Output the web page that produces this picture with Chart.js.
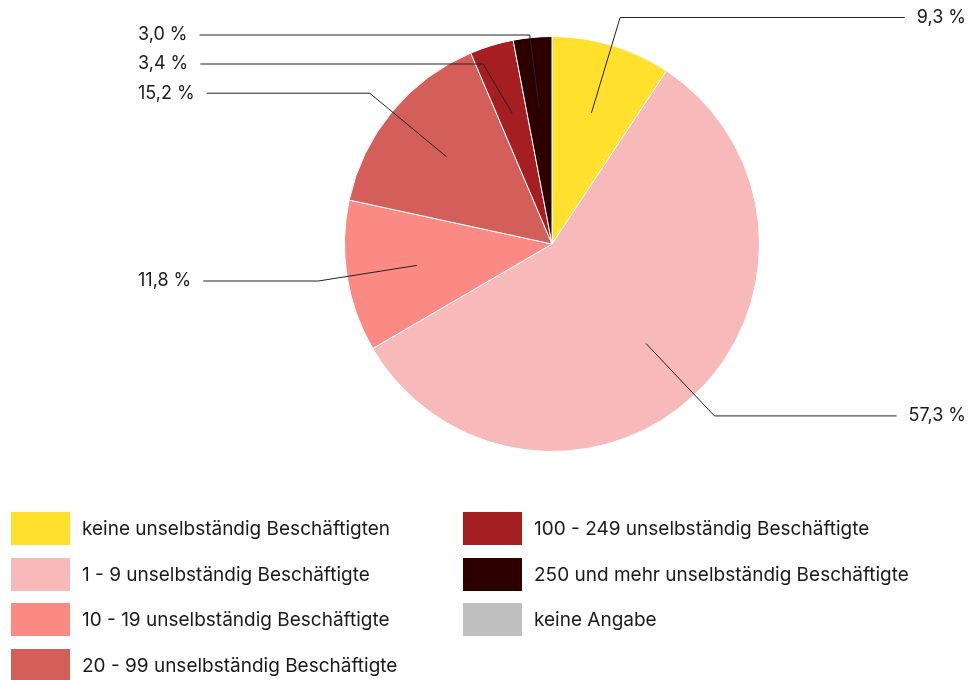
<!DOCTYPE html>
<html>
<head>
<meta charset="utf-8">
<script src="https://cdn.jsdelivr.net/npm/chart.js@4/dist/chart.umd.min.js"></script>
<style>
  body { margin: 0; background: #fff; font-family: Inter, "Liberation Sans", Arial, sans-serif; }
  #wrap { position: relative; width: 970px; height: 680px; }
  #legend { position: absolute; left: 0; top: 0; }
  .item { position: absolute; display: flex; align-items: center; font-size: 19px; color: #1a1a1a; white-space: nowrap; }
  .item span.box { display: inline-block; width: 59px; height: 33px; margin-right: 12px; }
</style>
</head>
<body>
<div id="wrap">
  <canvas id="pie" width="970" height="680"></canvas>
  <div id="legend"></div>
</div>
<script>
const categories = [
  "keine unselbständig Beschäftigten",
  "1 - 9 unselbständig Beschäftigte",
  "10 - 19 unselbständig Beschäftigte",
  "20 - 99 unselbständig Beschäftigte",
  "100 - 249 unselbständig Beschäftigte",
  "250 und mehr unselbständig Beschäftigte",
  "keine Angabe",
];
const shares = [9.3, 57.3, 11.8, 15.2, 3.4, 3.0, 0];
const sliceColors = ["#FFE12D", "#F7B9B9", "#FA8A83", "#D45F5A", "#A51E21", "#2D0000", "#BFBFBF"];

const fmt = (v) => v.toFixed(1).replace(".", ",") + " %";

// leader lines with labels on the left / right
const leaderLabels = {
  id: "leaderLabels",
  afterDatasetsDraw(chart, args, opts) {
    const ctx = chart.ctx;
    const arcs = chart.getDatasetMeta(0).data;
    const left = [];
    const right = [];
    arcs.forEach((arc, i) => {
      const v = shares[i];
      if (!v) return;
      const a = (arc.startAngle + arc.endAngle) / 2;
      const r = arc.outerRadius;
      const item = {
        text: fmt(v),
        px: arc.x + Math.cos(a) * r * 0.66,
        py: arc.y + Math.sin(a) * r * 0.66,
        ex: arc.x + Math.cos(a) * r * 1.14,
        ey: arc.y + Math.sin(a) * r * 1.14,
      };
      (Math.cos(a) >= 0 ? right : left).push(item);
    });

    const spread = (list, top) => {
      list.sort((p, q) => p.ey - q.ey);
      let prev = -Infinity;
      list.forEach((it) => {
        it.ey = Math.max(it.ey, top, prev + opts.gap);
        prev = it.ey;
      });
    };
    spread(left, opts.leftTop);
    spread(right, opts.rightTop);

    ctx.save();
    ctx.font = opts.font;
    ctx.fillStyle = "#1a1a1a";
    ctx.strokeStyle = "#222";
    ctx.lineWidth = 1;
    ctx.textBaseline = "middle";

    left.forEach((it) => {
      const w = ctx.measureText(it.text).width;
      ctx.beginPath();
      ctx.moveTo(it.px, it.py);
      ctx.lineTo(it.ex, it.ey);
      ctx.lineTo(opts.leftX + w + 12, it.ey);
      ctx.stroke();
      ctx.textAlign = "left";
      ctx.fillText(it.text, opts.leftX, it.ey);
    });
    right.forEach((it) => {
      const w = ctx.measureText(it.text).width;
      ctx.beginPath();
      ctx.moveTo(it.px, it.py);
      ctx.lineTo(it.ex, it.ey);
      ctx.lineTo(opts.rightX - w - 12, it.ey);
      ctx.stroke();
      ctx.textAlign = "right";
      ctx.fillText(it.text, opts.rightX, it.ey);
    });
    ctx.restore();
  },
};

new Chart("pie", {
  type: "pie",
  data: {
    labels: categories,
    datasets: [
      {
        data: shares,
        backgroundColor: sliceColors,
        borderColor: "#fff",
        borderWidth: 1,
      },
    ],
  },
  options: {
    responsive: false,
    animation: false,
    layout: { padding: { left: 344, right: 210, top: 36, bottom: 228 } },
    plugins: {
      legend: { display: false },
      tooltip: { enabled: false },
      leaderLabels: {
        font: '18px Inter, "Liberation Sans", Arial, sans-serif',
        gap: 29,
        leftTop: 35,
        rightTop: 0,
        leftX: 138,
        rightX: 966,
      },
    },
  },
  plugins: [leaderLabels],
});

// two-column legend below the pie
const legend = document.getElementById("legend");
categories.forEach((name, i) => {
  const col = i < 4 ? 0 : 1;
  const row = i < 4 ? i : i - 4;
  const el = document.createElement("div");
  el.className = "item";
  el.style.left = (col ? 463 : 11) + "px";
  el.style.top = 512 + row * 45.5 + "px";
  el.innerHTML = '<span class="box" style="background:' + sliceColors[i] + '"></span>' + name;
  legend.appendChild(el);
});
</script>
</body>
</html>
